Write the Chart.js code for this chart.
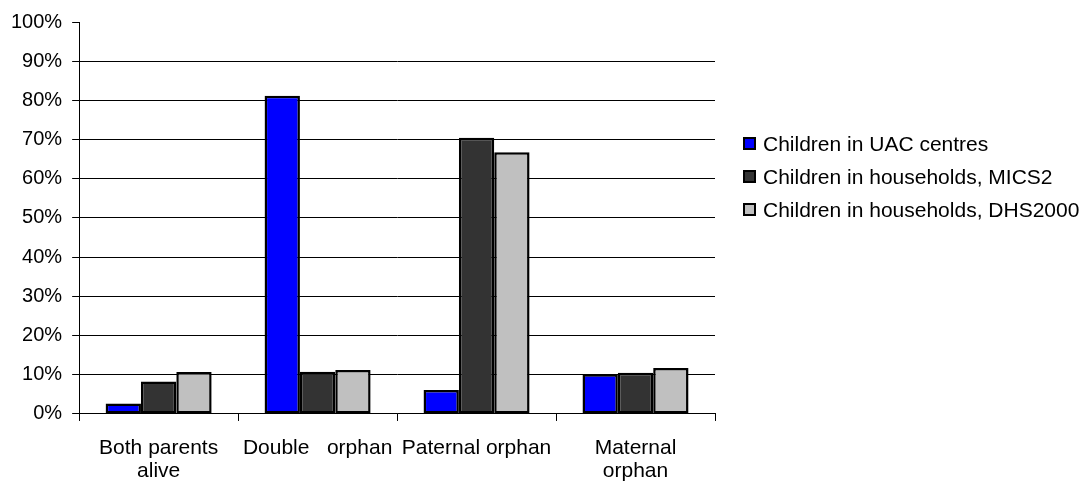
<!DOCTYPE html>
<html>
<head>
<meta charset="utf-8">
<script src="https://cdn.jsdelivr.net/npm/chart.js@4/dist/chart.umd.min.js"></script>
<style>
  body { margin: 0; background: #fff; }
  #wrap { width: 1088px; height: 481px; position: relative; }
  #legend {
    position: absolute; left: 743px; top: 127px;
    font: 21px 'Liberation Sans', Arial, sans-serif; color: #000;
  }
  #legend .item { height: 33px; line-height: 33px; white-space: nowrap; display: flex; align-items: center; }
  #legend .box {
    width: 13px; height: 13px; box-sizing: border-box;
    border: 2px solid #000; margin-right: 7px; flex: none;
  }
</style>
</head>
<body>
<div id="wrap"><canvas id="myChart"></canvas><div id="legend"></div></div>
<script>
const categories = [
    ['Both parents', 'alive'],
    ['Double   orphan'],
    ['Paternal orphan'],
    ['Maternal', 'orphan']
];

const uacValues = [2.7, 81.2, 6.1, 10.1];
const mics2Values = [8.3, 10.8, 70.5, 10.5];
const dhsValues = [10.7, 11.2, 66.8, 11.7];

const yTicks = [0, 10, 20, 30, 40, 50, 60, 70, 80, 90, 100];

const FONT = "'Liberation Sans', Arial, sans-serif";

const ctx = document.getElementById('myChart').getContext('2d');

const data = {
    labels: categories,
    datasets: [
        {
            label: 'Children in UAC centres',
            data: uacValues,
            backgroundColor: '#0000ff',
        },
        {
            label: 'Children in households, MICS2',
            data: mics2Values,
            backgroundColor: '#333333',
        },
        {
            label: 'Children in households, DHS2000',
            data: dhsValues,
            backgroundColor: '#c0c0c0',
        },
    ].map(ds => Object.assign(ds, {
        borderColor: '#000',
        borderWidth: 2.5,
        borderSkipped: false,
        categoryPercentage: 0.667,
        barPercentage: 1.0,
    })),
};

const config = {
    type: 'bar',
    data: data,
    options: {
        responsive: true,
        maintainAspectRatio: false,
        animation: false,
        layout: {
            padding: { top: 20, left: 1, right: 373, bottom: -17 }
        },
        plugins: {
            tooltip: { enabled: false },
            legend: { display: false },
        },
        scales: {
            x: {
                grid: {
                    display: true,
                    drawOnChartArea: false,
                    offset: true,
                    tickLength: 7,
                    color: '#000',
                },
                border: { display: true, color: '#000', width: 1 },
                ticks: {
                    color: '#000',
                    padding: 15,
                    maxRotation: 0,
                    autoSkip: false,
                    font: { family: FONT, size: 21, lineHeight: 1.12 },
                },
            },
            y: {
                min: 0,
                max: 100,
                afterBuildTicks: (scale) => {
                    scale.ticks = yTicks.map(v => ({ value: v }));
                },
                grid: {
                    color: (c) => (c.tick && c.tick.value === 100) ? 'rgba(0,0,0,0)' : '#000',
                    tickColor: '#000',
                    tickLength: 7,
                    lineWidth: 1,
                },
                border: { display: true, color: '#000', width: 1 },
                ticks: {
                    color: '#000',
                    padding: 10,
                    font: { family: FONT, size: 20 },
                    callback: function(value) {
                        return value + '%';
                    },
                },
            },
        },
    },
};

const myChart = new Chart(ctx, config);

// legend built from the chart's own datasets
const legendEl = document.getElementById('legend');
myChart.data.datasets.forEach(ds => {
    const row = document.createElement('div');
    row.className = 'item';
    const box = document.createElement('span');
    box.className = 'box';
    box.style.background = ds.backgroundColor;
    row.appendChild(box);
    row.appendChild(document.createTextNode(ds.label));
    legendEl.appendChild(row);
});
</script>
</body>
</html>
